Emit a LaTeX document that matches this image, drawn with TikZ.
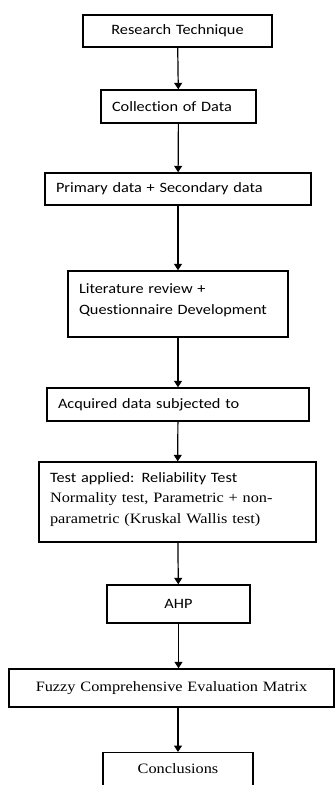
\documentclass[tikz,border=0pt]{standalone}
\usepackage{fontspec}
\newfontfamily\calfont[FakeStretch=1.14,Ligatures=NoCommon]{Carlito}
\newfontfamily\tmsfont[FakeStretch=1.14]{Liberation Serif}
\usetikzlibrary{arrows.meta}
\begin{document}
\begin{tikzpicture}[x=1pt,y=-1pt,
  box/.style={draw=black, line width=1.4pt, inner xsep=11pt, inner ysep=0pt,
    font=\calfont\fontsize{14.3}{20.5}\selectfont},
  serifbox/.style={box, font=\tmsfont\fontsize{14.3}{20.5}\selectfont},
  arr/.style={draw=black, line width=1.2pt, -{Triangle[width=8pt,length=6.5pt]}}]
\useasboundingbox (0,0) rectangle (335,785);

\node[box, align=center, text width=167pt, minimum height=32pt] (rt) at (177.5,31) {Research Technique};
\node[box, align=left, text width=133pt, minimum height=33pt] (cd) at (178.5,106.5) {Collection of Data};
\node[box, align=left, text width=244pt, minimum height=32pt] (ps) at (178,189) {Primary data + Secondary data};
\node[box, align=left, text width=198pt, minimum height=66pt, text depth=30pt] (lr) at (178,304) {Literature review +\\Questionnaire Development};
\node[box, align=left, text width=240pt, minimum height=33pt] (ad) at (178,404.5) {Acquired data subjected to};
\node[box, align=left, text width=255pt, minimum height=80pt, text depth=49pt] (ta) at (177.5,502) {Test applied: Reliability Test\\{\tmsfont Normality test, Parametric + non-}\\{\tmsfont parametric (Kruskal Wallis test)}};
\node[box, align=center, text width=121pt, minimum height=38pt] (ahp) at (178.5,604) {AHP};
\node[serifbox, align=center, text width=303pt, minimum height=38pt] (fz) at (171.5,688) {Fuzzy Comprehensive Evaluation Matrix};
\node[serifbox, align=center, text width=128pt, inner ysep=6pt, text height=15pt, text depth=22pt, anchor=north] (cc) at (178,752) {Conclusions};

\draw[arr] (rt) -- (cd);
\draw[arr] (cd) -- (ps);
\draw[arr] (ps) -- (lr);
\draw[arr] (lr) -- (ad);
\draw[arr] (ad) -- (ta);
\draw[arr] (ta) -- (ahp);
\draw[arr] (ahp) -- (ahp |- fz.north);
\draw[arr] (fz.south -| cc) -- (cc);
\end{tikzpicture}
\end{document}
